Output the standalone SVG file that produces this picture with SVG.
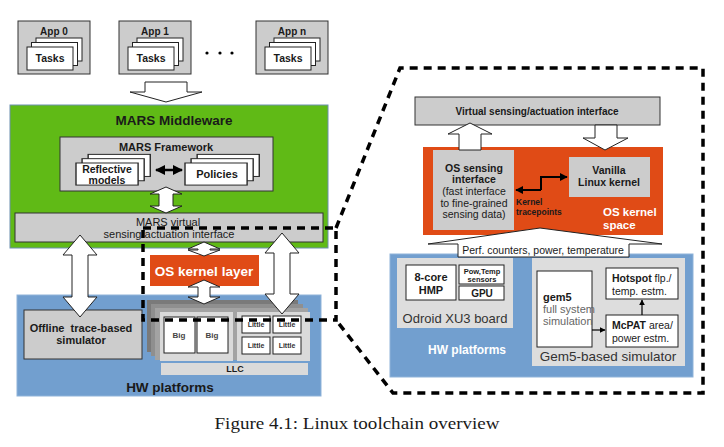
<svg xmlns="http://www.w3.org/2000/svg" width="724" height="447" viewBox="0 0 724 447">
<style>
text{font-family:"Liberation Sans",Arial,sans-serif;fill:#1a1a1a}
.b{font-weight:bold}
.c{text-anchor:middle}
.gray{fill:#cccccc;stroke:#333;stroke-width:1}
.lgray{fill:#dddddd;stroke:none}
.white{fill:#fff;stroke:#222;stroke-width:1}
.hollow{fill:#fff;stroke:#222;stroke-width:1}
.wt{fill:#fff}
.blk{stroke:#000;stroke-width:2;fill:none}
.dash{fill:none;stroke:#000;stroke-width:3.5;stroke-dasharray:8 6}
</style>
<defs>
<marker id="ah" viewBox="0 0 10 10" refX="9" refY="5" markerWidth="4" markerHeight="4" orient="auto-start-reverse"><path d="M0,0 L10,5 L0,10 Z" fill="#000"/></marker>
<marker id="ahs" viewBox="0 0 10 10" refX="9" refY="5" markerWidth="5" markerHeight="5" orient="auto-start-reverse"><path d="M0,0 L10,5 L0,10 Z" fill="#000"/></marker>
<g id="pages">
<rect x="9" y="-9" width="46" height="23" class="white"/>
<rect x="4.5" y="-4.5" width="46" height="23" class="white"/>
<rect x="0" y="0" width="46" height="23" class="white"/>
</g>
</defs>
<rect width="724" height="447" fill="#fff"/>

<!-- Apps -->
<g id="app0">
<rect x="18" y="21" width="72" height="53" class="gray"/>
<text x="54" y="35" class="b c" font-size="10">App 0</text>
<use href="#pages" x="27" y="47"/>
<text x="50" y="62" class="b c" font-size="10.5">Tasks</text>
</g>
<g id="app1">
<rect x="119" y="21" width="72" height="53" class="gray"/>
<text x="155" y="35" class="b c" font-size="10">App 1</text>
<use href="#pages" x="128" y="47"/>
<text x="151" y="62" class="b c" font-size="10.5">Tasks</text>
</g>
<g id="appn">
<rect x="256" y="21" width="72" height="53" class="gray"/>
<text x="292" y="35" class="b c" font-size="10">App n</text>
<use href="#pages" x="265" y="47"/>
<text x="288" y="62" class="b c" font-size="10.5">Tasks</text>
</g>
<g id="dots" fill="#000">
<circle cx="207" cy="53" r="1.6"/><circle cx="220" cy="53" r="1.6"/><circle cx="232" cy="53" r="1.6"/>
</g>

<!-- MARS Middleware -->
<g id="middleware">
<rect x="10" y="105" width="318" height="143" fill="#60ba16" stroke="#6d8fb0" stroke-width="1"/>
<text x="174" y="125" class="b c" font-size="13.5">MARS Middleware</text>
</g>
<g id="framework">
<rect x="60" y="137" width="213" height="54" class="gray"/>
<text x="166" y="151" class="b c" font-size="11">MARS Framework</text>
</g>
<g id="reflective">
<use href="#pages" x="76" y="163" transform="translate(76,163) scale(1.35,0.96) translate(-76,-163)"/>
<text x="107" y="173" class="b c" font-size="10.5">Reflective</text>
<text x="107" y="184" class="b c" font-size="10.5">models</text>
</g>
<g id="policies">
<use href="#pages" x="185" y="163" transform="translate(185,163) scale(1.35,0.96) translate(-185,-163)"/>
<text x="217" y="178" class="b c" font-size="11">Policies</text>
</g>
<g id="virtual-if">
<rect x="15" y="213" width="308" height="29" class="gray"/>
<text x="168" y="226" class="c" font-size="11">MARS virtual</text>
<text x="169" y="238" class="c" font-size="11">sensing/actuation interface</text>
</g>

<!-- Left HW platforms -->
<g id="hw-left">
<rect x="17" y="295" width="304" height="101" fill="#729fcf" stroke="#8fb3d9" stroke-width="1"/>
<text x="170" y="392" class="b c" font-size="13.5">HW platforms</text>
</g>
<g id="offline-sim">
<rect x="24" y="310" width="118" height="49" class="gray"/>
<text x="81" y="332" class="b c" font-size="11" xml:space="preserve">Offline  trace-based</text>
<text x="81" y="344" class="b c" font-size="11">simulator</text>
</g>
<g id="soc">
<rect x="147" y="300" width="151" height="52" fill="#7a7a7a"/>
<rect x="151" y="304" width="152" height="52" fill="#8f8f8f"/>
<rect x="155" y="308" width="153" height="52" fill="#a3a3a3"/>
<rect x="160" y="312" width="73" height="49" fill="#dadada"/>
<rect x="237" y="312" width="73" height="49" fill="#dadada"/>
<rect x="161" y="363" width="147" height="12" fill="#dadada"/>
<text x="235" y="372" class="b c" font-size="9" fill="#333">LLC</text>
<rect x="164" y="317" width="31" height="36" class="white"/>
<rect x="197" y="317" width="31" height="36" class="white"/>
<text x="179" y="338" class="b c" font-size="8" style="fill:#444">Big</text>
<text x="212" y="338" class="b c" font-size="8" style="fill:#444">Big</text>
<rect x="242" y="316" width="28" height="17" class="white"/>
<rect x="273" y="316" width="28" height="17" class="white"/>
<rect x="242" y="337" width="28" height="17" class="white"/>
<rect x="273" y="337" width="28" height="17" class="white"/>
<text x="256" y="327" class="b c" font-size="7" style="fill:#333">Little</text>
<text x="287" y="327" class="b c" font-size="7" style="fill:#333">Little</text>
<text x="256" y="348" class="b c" font-size="7" style="fill:#333">Little</text>
<text x="287" y="348" class="b c" font-size="7" style="fill:#333">Little</text>
</g>
<g id="os-kernel-layer">
<rect x="150" y="255" width="109" height="31" fill="#e04b16"/>
<text x="204" y="276" class="b c wt" font-size="13.5">OS kernel layer</text>
</g>

<!-- Right detail -->
<g id="virtual-if-r">
<rect x="415" y="97" width="245" height="28" class="gray"/>
<text x="537" y="115" class="b c" font-size="10">Virtual sensing/actuation interface</text>
</g>
<g id="os-kernel-space">
<rect x="423" y="147" width="240" height="88" fill="#e04b16"/>
<text x="603" y="216" class="b wt" font-size="11.5">OS kernel</text>
<text x="603" y="229" class="b wt" font-size="11.5">space</text>
</g>
<g id="os-sensing">
<rect x="433" y="150" width="81" height="80" fill="#cccccc"/>
<text x="474" y="172" class="b c" font-size="10.5">OS sensing</text>
<text x="474" y="183" class="b c" font-size="10.5">interface</text>
<text x="474" y="195" class="c" font-size="10.5">(fast interface</text>
<text x="474" y="207" class="c" font-size="10.5">to fine-grained</text>
<text x="474" y="218" class="c" font-size="10.5">sensing data)</text>
</g>
<g id="vanilla">
<rect x="569" y="157" width="81" height="40" fill="#cccccc"/>
<text x="609" y="174" class="b c" font-size="10.5">Vanilla</text>
<text x="609" y="186" class="b c" font-size="10.5">Linux kernel</text>
</g>
<text x="516" y="205" class="b" font-size="8.5">Kernel</text>
<text x="516" y="215" class="b" font-size="8.5">tracepoints</text>

<g id="hw-right">
<rect x="390" y="254" width="303" height="123" fill="#729fcf" stroke="#8fb3d9" stroke-width="1"/>
<text x="467" y="354" class="b c wt" font-size="12">HW platforms</text>
</g>
<g id="odroid">
<rect x="397" y="258" width="116" height="70" class="lgray"/>
<text x="455" y="323" class="c" font-size="13" style="fill:#333">Odroid XU3 board</text>
<rect x="406" y="265" width="50" height="35" class="white"/>
<text x="431" y="281" class="b c" font-size="11">8-core</text>
<text x="431" y="294" class="b c" font-size="11">HMP</text>
<rect x="459" y="265" width="45" height="19" class="white"/>
<text x="482" y="273.5" class="b c" font-size="7.5">Pow,Temp</text>
<text x="482" y="282" class="b c" font-size="7.5">sensors</text>
<rect x="459" y="286" width="45" height="14" class="white"/>
<text x="482" y="297" class="b c" font-size="10">GPU</text>
</g>
<g id="gem5-sim">
<rect x="532" y="258" width="153" height="108" class="lgray"/>
<text x="608" y="361" class="c" font-size="13.5" style="fill:#333">Gem5-based simulator</text>
<rect x="537" y="271" width="55" height="76" class="white"/>
<text x="543" y="301" class="b" font-size="11">gem5</text>
<text x="543" y="313" font-size="11" style="fill:#666">full system</text>
<text x="543" y="325" font-size="11" style="fill:#666">simulation</text>
<rect x="606" y="268" width="72" height="31" class="white"/>
<text x="612" y="282" font-size="10.5"><tspan class="b">Hotspot</tspan> flp./</text>
<text x="612" y="295" font-size="10.5">temp. estm.</text>
<rect x="606" y="315" width="72" height="32" class="white"/>
<text x="612" y="329" font-size="10.5"><tspan class="b">McPAT</tspan> area/</text>
<text x="612" y="342" font-size="10.5">power estm.</text>
</g>

<!-- Connectors -->
<g id="connectors">
<polygon class="hollow" points="145,82 187,82 187,92 202,92 166,102 130,92 145,92"/>
<line x1="156" y1="170" x2="182" y2="170" stroke="#000" stroke-width="2.5" marker-start="url(#ah)" marker-end="url(#ah)"/>
<polygon class="hollow" points="166,187 182,194 173,194 173,206 182,206 166,213 150,206 159,206 159,194 150,194"/>
<polygon class="hollow" points="80,235 97,255 88,255 88,297 97,297 80,317 63,297 72,297 72,255 63,255"/>
<polygon class="hollow" points="282,233 299,253 290,253 290,294 299,294 282,314 265,294 274,294 274,253 265,253"/>
<polygon class="hollow" points="204,242 220,249 210,249 210,250 220,250 204,256 188,250 198,250 198,249 188,249"/>
<polygon class="hollow" points="204,280 220,287 210,287 210,297 220,297 204,304 188,297 198,297 198,287 188,287"/>
<polygon class="hollow" points="459,150 459,134 448,134 470,123 492,134 481,134 481,150"/>
<polygon class="hollow" points="595,125 617,125 617,138 628,138 605,150 583,138 595,138"/>
<polygon class="hollow" points="428,244 540,228 662,244 629,244 629,257 458,257 458,244"/>
<text x="543" y="254" class="c" font-size="10.5">Perf. counters, power, temperature</text>
<polyline class="blk" points="541,190 541,177 567,177" marker-end="url(#ah)"/>
<line x1="541" y1="190" x2="516" y2="190" class="blk" marker-end="url(#ah)"/>
<line x1="592" y1="330" x2="605" y2="330" stroke="#000" stroke-width="1.2" marker-end="url(#ahs)"/>
<line x1="642" y1="315" x2="642" y2="300" stroke="#000" stroke-width="1.2" marker-end="url(#ahs)"/>
<path class="dash" d="M143,228 H336 V320 H143 Z"/>
<path class="dash" d="M336,228 L400,68 H703 V393 H393 L336,320"/>
</g>

<text x="357" y="429" class="c" font-size="16" textLength="285" lengthAdjust="spacingAndGlyphs" style="font-family:'Liberation Serif','DejaVu Serif',serif">Figure 4.1: Linux toolchain overview</text>
</svg>
